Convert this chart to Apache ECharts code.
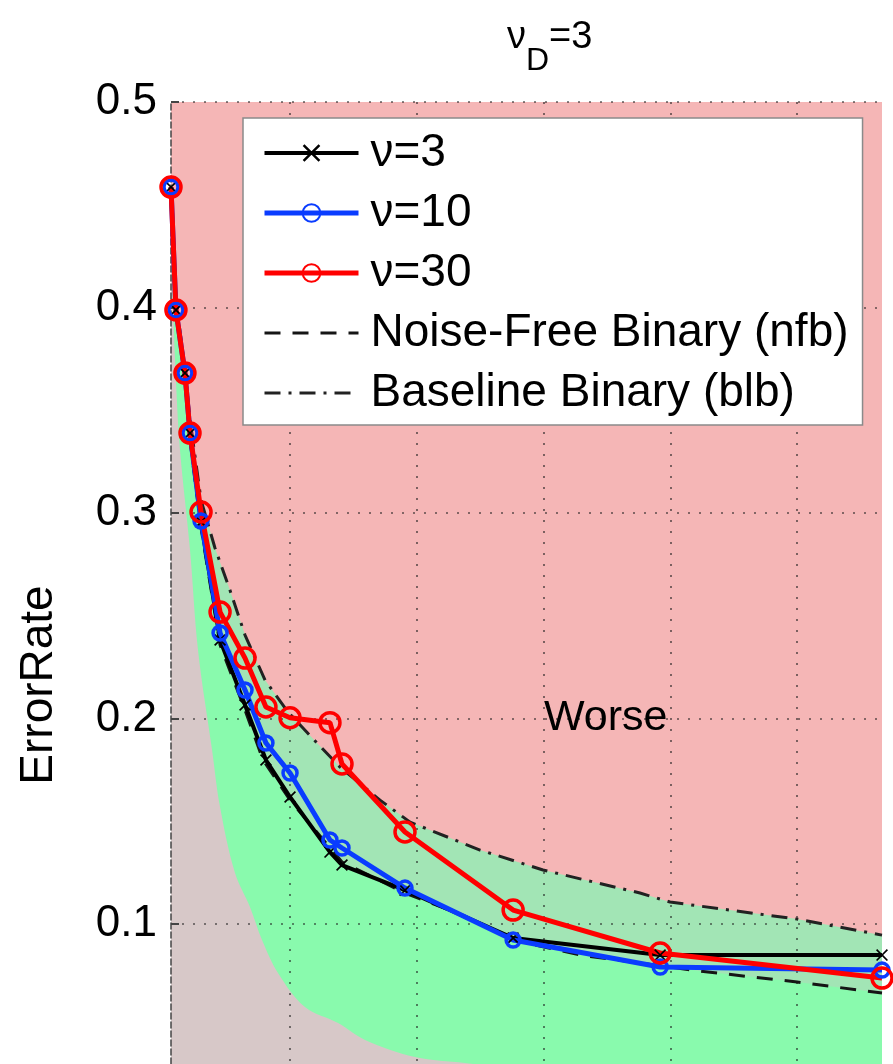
<!DOCTYPE html>
<html>
<head>
<meta charset="utf-8">
<script src="https://cdn.jsdelivr.net/npm/echarts@6/dist/echarts.min.js"></script>
<style>
  html, body { margin: 0; padding: 0; background: #ffffff; }
  #chart { width: 893px; height: 1064px; }
</style>
</head>
<body>
<div id="chart"></div>
<script>
// Shared x positions of the measured configurations
const xVals = [0.61, 1.0, 1.71, 2.11, 2.98, 4.48, 6.45, 8.1, 10.0, 13.15, 14.1, 19.07, 27.6, 39.2, 56.7];

// Error rate for each ν
const nu3  = [0.4586, 0.3988, 0.3681, 0.3389, 0.2956, 0.2382, 0.2066, 0.1798, 0.1618, 0.1350, 0.1287, 0.1165, 0.0932, 0.0849, 0.0849];
const nu10 = [0.4586, 0.3988, 0.3681, 0.3389, 0.2961, 0.2416, 0.2139, 0.1881, 0.1735, 0.1409, 0.1370, 0.1175, 0.0922, 0.0791, 0.0776];
const nu30 = [0.4586, 0.3988, 0.3681, 0.3389, 0.3005, 0.2518, 0.2294, 0.2056, 0.2004, 0.1980, 0.1779, 0.1448, 0.1068, 0.0859, 0.0737];

// Noise-free binary reference curve
const nfbX = [0.61, 1.0, 1.71, 2.11, 2.98, 4.48, 6.45, 7.87, 10.0, 14.1, 19.07, 23.0, 27.6, 32.9, 37.6, 42.35, 50.0, 56.7];
const nfbY = [0.4586, 0.3978, 0.3657, 0.3355, 0.2927, 0.2358, 0.2041, 0.1798, 0.1603, 0.1302, 0.1151, 0.1058, 0.0922, 0.0849, 0.0810, 0.0771, 0.0718, 0.0664];

// Baseline binary reference curve
const blbX = [0.61, 1.0, 1.71, 2.11, 2.98, 4.08, 5.26, 6.45, 8.03, 9.84, 12.13, 13.94, 17.1, 19.47, 24.99, 29.96, 37.61, 39.98, 50.0, 56.7];
const blbY = [0.4586, 0.4036, 0.3696, 0.3453, 0.3063, 0.2830, 0.2625, 0.2406, 0.2187, 0.2032, 0.1881, 0.1764, 0.1603, 0.1496, 0.1360, 0.1263, 0.1151, 0.1107, 0.1024, 0.0946];

// Lower bound of the "better" band
const lowX = [0.61, 0.77, 1.0, 1.32, 2.11, 2.74, 3.85, 4.48, 5.66, 6.84, 7.79, 9.05, 11.18, 13.79, 15.92, 19.86, 23.8, 31.3, 42.3, 56.7];
const lowY = [0.4586, 0.4036, 0.3647, 0.3307, 0.2820, 0.2334, 0.1847, 0.1569, 0.1248, 0.1083, 0.0922, 0.0762, 0.0596, 0.0518, 0.0436, 0.0353, 0.0324, 0.0265, 0.0217, 0.0183];

// Axis range, ticks and annotation
const yRange = [0.0319, 0.5];
const xRange = [0.61, 56.7];
const yTicks = [0.1, 0.2, 0.3, 0.4, 0.5];
const seriesNames = ['ν=3', 'ν=10', 'ν=30', 'Noise-Free Binary (nfb)', 'Baseline Binary (blb)'];
const regionLabel = { text: 'Worse', x: 34.9, y: 0.2 };

const FONT = '"Liberation Sans", Arial, Helvetica, sans-serif';
const pair = (xs, ys) => xs.map((x, i) => [x, ys[i]]);

const GRID_LINE = { type: [2, 9], color: 'rgba(30,30,30,0.7)', width: 1.6 };

const crossPath = 'path://M0,1L1,0L5,4L9,0L10,1L6,5L10,9L9,10L5,6L1,10L0,9L4,5Z';

function band(xs, ys, color, smooth) {
  return {
    type: 'line',
    data: pair(xs, ys),
    symbol: 'none',
    showSymbol: false,
    silent: true,
    smooth: smooth,
    lineStyle: { width: 0, opacity: 0 },
    areaStyle: { color: color, opacity: 1, origin: 'start' },
    z: 1
  };
}

const chart = echarts.init(document.getElementById('chart'), null, { renderer: 'canvas' });

chart.setOption({
  animation: false,
  backgroundColor: '#ffffff',
  title: {
    text: '{a|ν}{b|D}{a|=3}',
    left: 502,
    top: 14,
    textStyle: {
      fontWeight: 'normal',
      rich: {
        a: { fontSize: 38, fontFamily: FONT, fontWeight: 'normal', color: '#000', verticalAlign: 'top' },
        b: { fontSize: 32, fontFamily: FONT, fontWeight: 'normal', color: '#000', padding: [26, 0, 0, 0] }
      }
    }
  },
  grid: {
    show: true,
    left: 171,
    top: 102,
    width: 711,
    height: 962,
    backgroundColor: '#f5b6b6',
    borderWidth: 0,
    containLabel: false
  },
  legend: {
    data: [
      { name: seriesNames[0], lineStyle: { width: 4 } },
      { name: seriesNames[1], lineStyle: { width: 5 } },
      { name: seriesNames[2], lineStyle: { width: 5 } },
      { name: seriesNames[3], lineStyle: { width: 3 }, itemStyle: { opacity: 0 } },
      { name: seriesNames[4], lineStyle: { width: 3 }, itemStyle: { opacity: 0 } }
    ],
    orient: 'vertical',
    left: 243,
    top: 118,
    backgroundColor: '#ffffff',
    borderColor: '#8a8a8a',
    borderWidth: 1.5,
    padding: [12, 14, 9, 19],
    itemWidth: 94,
    itemHeight: 22,
    itemGap: 14,
    selectedMode: false,
    textStyle: { fontSize: 46, lineHeight: 46, fontFamily: FONT, color: '#000', padding: [0, 0, 0, 7] }
  },
  xAxis: {
    type: 'value',
    min: xRange[0],
    max: xRange[1],
    z: 2,
    axisLine: { show: false },
    axisTick: { show: false },
    axisLabel: { show: false },
    splitLine: { show: true, showMinLine: false, showMaxLine: false, lineStyle: GRID_LINE }
  },
  yAxis: {
    type: 'value',
    min: yRange[0],
    max: yRange[1],
    z: 2,
    axisLine: { show: true, lineStyle: { color: '#444', width: 1.5, type: [6, 3] } },
    axisTick: { show: true, inside: true, length: 8, lineStyle: { color: '#444', width: 2 } },
    axisLabel: {
      fontSize: 44,
      fontFamily: FONT,
      color: '#000',
      margin: 14,
      showMinLabel: false,
      formatter: v => (yTicks.some(t => Math.abs(t - v) < 1e-9) ? v.toFixed(1) : '')
    },
    splitLine: { show: true, showMinLine: false, lineStyle: GRID_LINE }
  },
  graphic: [{
    type: 'text',
    x: 39,
    y: 685,
    rotation: Math.PI / 2,
    style: {
      text: 'ErrorRate',
      font: '46px ' + FONT,
      fill: '#000',
      align: 'center',
      verticalAlign: 'middle'
    }
  }],
  series: [
    band(blbX, blbY, '#a2e5b5', false),
    band(nfbX, nfbY, '#89faad', false),
    band(lowX, lowY, '#d7c8c8', 0.35),
    {
      type: 'line',
      name: seriesNames[3],
      data: pair(nfbX, nfbY),
      symbol: 'none',
      itemStyle: { color: '#151515' },
      lineStyle: { color: '#151515', width: 3, type: [16, 12] },
      z: 4
    },
    {
      type: 'line',
      name: seriesNames[4],
      data: pair(blbX, blbY),
      symbol: 'none',
      itemStyle: { color: '#222' },
      lineStyle: { color: '#222', width: 3, type: [16, 8, 3, 8] },
      z: 4,
      markPoint: {
        silent: true,
        symbol: 'circle',
        symbolSize: 0,
        itemStyle: { color: 'rgba(0,0,0,0)' },
        label: {
          show: true,
          position: 'inside',
          formatter: regionLabel.text,
          fontSize: 43,
          fontFamily: FONT,
          color: '#000'
        },
        data: [{ coord: [regionLabel.x, regionLabel.y] }]
      }
    },
    {
      type: 'line',
      name: seriesNames[0],
      data: pair(xVals, nu3),
      symbol: crossPath,
      symbolSize: 12,
      clip: false,
      itemStyle: { color: '#000' },
      lineStyle: { color: '#000', width: 4 },
      z: 5
    },
    {
      type: 'line',
      name: seriesNames[1],
      data: pair(xVals, nu10),
      symbol: 'circle',
      symbolSize: 14,
      clip: false,
      itemStyle: { color: 'rgba(0,0,0,0)', borderColor: '#0a3cff', borderWidth: 3.5 },
      lineStyle: { color: '#0a3cff', width: 5 },
      z: 5
    },
    {
      type: 'line',
      name: seriesNames[2],
      data: pair(xVals, nu30),
      symbol: 'circle',
      symbolSize: 20,
      clip: false,
      itemStyle: { color: 'rgba(0,0,0,0)', borderColor: '#ff0000', borderWidth: 3.5 },
      lineStyle: { color: '#ff0000', width: 5 },
      z: 5
    }
  ]
});
</script>
</body>
</html>
